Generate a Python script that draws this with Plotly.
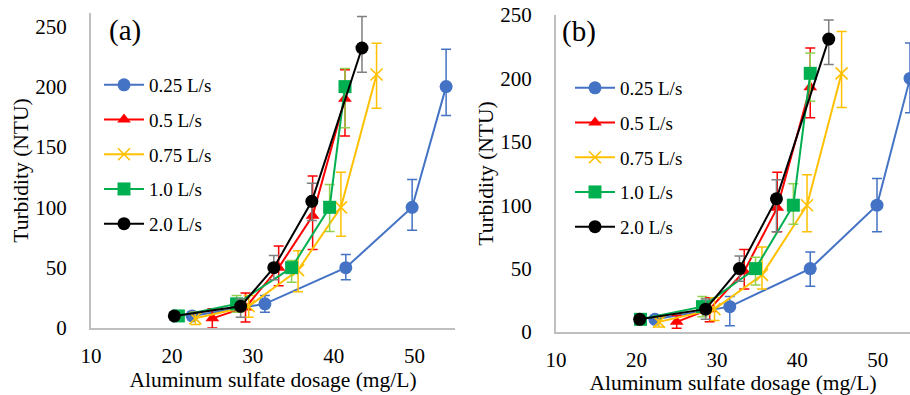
import plotly.graph_objects as go

# Flow-rate series shown in both panels
flows = ["0.25 L/s", "0.5 L/s", "0.75 L/s", "1.0 L/s", "2.0 L/s"]

# Panel (a): dosage (mg/L), turbidity (NTU), upper / lower error
dose_a = [
    [22.5, 31.5, 41.5, 49.7, 53.9],
    [25.0, 29.1, 33.2, 37.4, 41.4],
    [22.9, 29.5, 35.6, 40.9, 45.3],
    [20.8, 28.0, 34.8, 39.5, 41.4],
    [20.3, 28.5, 32.6, 37.3, 43.5],
]
turb_a = [
    [10, 20, 50, 100, 200],
    [8, 17, 50, 93, 190],
    [8, 18, 48, 100, 210],
    [10, 20, 50, 100, 200],
    [10, 18, 50, 105, 232],
]
err_hi_a = [
    [3, 7, 11, 23, 31],
    [8, 12, 18, 33, 24],
    [5, 9, 16, 29, 26],
    [3, 7, 6, 19, 15],
    [3, 6, 10, 15, 26],
]
err_lo_a = [
    [3, 7, 10, 19, 24],
    [8, 12, 15, 28, 31],
    [5, 9, 18, 24, 28],
    [3, 7, 12, 20, 34],
    [3, 9, 10, 16, 20],
]

# Panel (b)
dose_b = [
    [22.3, 31.6, 41.6, 49.9, 54.0],
    [25.0, 29.1, 33.4, 37.5, 41.6],
    [22.8, 29.7, 35.6, 41.2, 45.5],
    [20.5, 28.2, 34.8, 39.5, 41.6],
    [20.4, 28.6, 32.8, 37.4, 43.9],
]
turb_b = [
    [10, 20, 50, 100, 200],
    [8, 18, 48, 98, 193],
    [8, 18, 45, 100, 204],
    [10, 20, 50, 100, 204],
    [10, 18, 50, 105, 231],
]
err_hi_b = [
    [3, 8, 13, 21, 28],
    [5, 9, 17, 28, 31],
    [4, 9, 22, 24, 33],
    [3, 8, 9, 17, 16],
    [3, 8, 10, 15, 15],
]
err_lo_b = [
    [3, 15, 14, 21, 27],
    [5, 10, 14, 19, 24],
    [4, 9, 11, 21, 27],
    [3, 8, 13, 15, 22],
    [3, 8, 10, 26, 20],
]

x_ticks = [10, 20, 30, 40, 50]
y_ticks = [0, 50, 100, 150, 200, 250]

FONT = "Liberation Serif"
line_colors = ["#4472C4", "#FF0000", "#FFC000", "#00B050", "#000000"]
err_colors = ["#4472C4", "#FF0000", "#FFC000", "#92D050", "#7F7F7F"]
symbols = ["circle", "triangle-up", "x-thin", "square", "circle"]
sizes = [13, 12, 12, 13, 13]

fig = go.Figure()

panels = [
    ("a", dose_a, turb_a, err_hi_a, err_lo_a, "x", "y", "legend"),
    ("b", dose_b, turb_b, err_hi_b, err_lo_b, "x2", "y2", "legend2"),
]

for tag, dose, turb, hi, lo, xa, ya, leg in panels:
    for i, name in enumerate(flows):
        is_x = symbols[i] == "x-thin"
        fig.add_trace(go.Scatter(
            x=dose[i], y=turb[i], name=name,
            mode="lines+markers",
            xaxis=xa, yaxis=ya, legend=leg,
            legendgroup=f"{tag}{i}",
            line=dict(color=line_colors[i], width=2),
            marker=dict(
                symbol=symbols[i], size=sizes[i], color=line_colors[i],
                line=dict(color=line_colors[i], width=1.6 if is_x else 0),
            ),
            error_y=dict(
                type="data", symmetric=False, array=hi[i], arrayminus=lo[i],
                color=err_colors[i], thickness=1.5, width=5,
            ),
        ))

W, H = 910, 395


def px_x(p):
    return p / W


def px_y(p):
    return 1 - p / H


axis_common = dict(
    automargin=False,
    showline=True, linecolor="#BFBFBF", linewidth=2,
    showgrid=False, zeroline=False, ticks="",
    tickfont=dict(family=FONT, size=21, color="#000000"),
)

xa_common = dict(axis_common, tickmode="array", tickvals=x_ticks,
                 ticklabelstandoff=8,
                 title=dict(text="Aluminum sulfate dosage (mg/L)",
                            font=dict(family=FONT, size=21.5, color="#000000"),
                            standoff=5))
ya_common = dict(axis_common, tickmode="array", tickvals=y_ticks,
                 ticklabelstandoff=18,
                 title=dict(text="Turbidity (NTU)",
                            font=dict(family=FONT, size=21.5, color="#000000"),
                            standoff=1))

legend_common = dict(
    xanchor="left", yanchor="top", bgcolor="rgba(0,0,0,0)",
    font=dict(family=FONT, size=19, color="#000000"),
    traceorder="grouped", tracegroupgap=7, itemwidth=40,
)

fig.update_layout(
    template="none",
    width=W, height=H,
    margin=dict(l=0, r=0, t=0, b=0, autoexpand=False),
    paper_bgcolor="white", plot_bgcolor="white",
    xaxis=dict(xa_common, domain=[px_x(91), px_x(455)], range=[10, 55], anchor="y"),
    yaxis=dict(ya_common, domain=[px_y(328), px_y(13)], range=[0, 261], anchor="x"),
    xaxis2=dict(xa_common, domain=[px_x(556), 1.0], range=[10, 54], anchor="y2"),
    yaxis2=dict(ya_common, domain=[px_y(332), px_y(15)], range=[0, 250], anchor="x2"),
    legend=dict(legend_common, x=px_x(99), y=px_y(66)),
    legend2=dict(legend_common, x=px_x(570), y=px_y(69)),
    annotations=[
        dict(text="(a)", x=px_x(107), y=px_y(31), xref="paper", yref="paper",
             xanchor="left", yanchor="middle", showarrow=False,
             font=dict(family=FONT, size=29, color="#000000")),
        dict(text="(b)", x=px_x(560), y=px_y(32), xref="paper", yref="paper",
             xanchor="left", yanchor="middle", showarrow=False,
             font=dict(family=FONT, size=29, color="#000000")),
    ],
)

fig.write_html("out.html")
